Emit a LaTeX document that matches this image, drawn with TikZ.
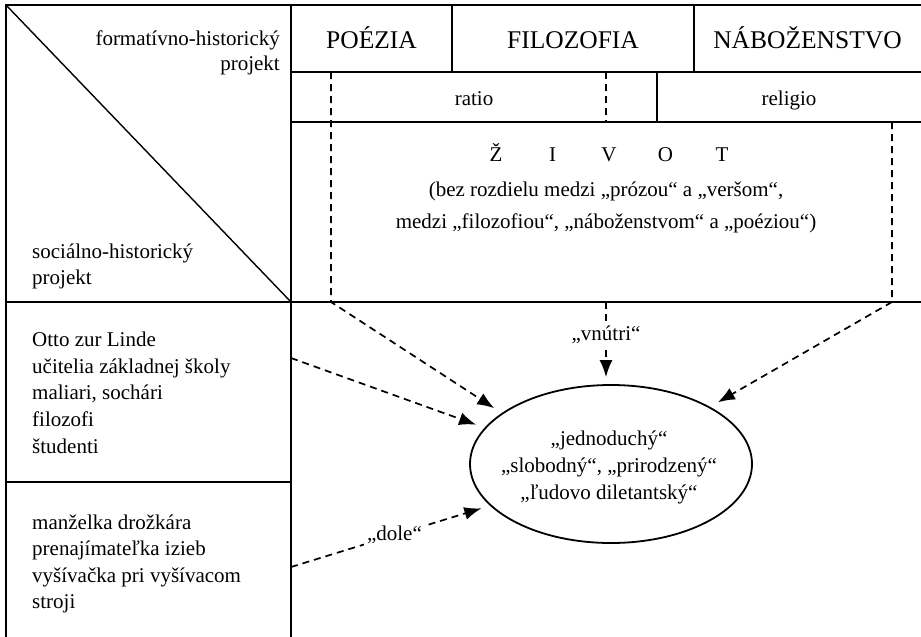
\documentclass[tikz,border=0pt]{standalone}
\usepackage{fontspec}
\setmainfont{Liberation Serif}
\usetikzlibrary{arrows.meta, shapes.geometric}

\begin{document}
\begin{tikzpicture}[x = 1pt, y = -1pt,
    frame/.style = {line width = 2.3pt},
    cell/.style = {line width = 1.6pt},
    link/.style = {line width = 1.7pt, dash pattern = on 7pt off 5pt},
    arrow/.style = {link, -{Latex[length = 17pt, width = 13pt]}, shorten > = 9pt},
    txt/.style = {font = \fontsize{21}{26.7}\selectfont, inner sep = 0pt},
    big/.style = {font = \fontsize{25.5}{30}\selectfont, inner sep = 0pt},
    lbl/.style = {txt, fill = white, inner sep = 3pt}]
  \useasboundingbox (0,0) rectangle (921,637);
  % table frame
  \draw [frame] (921,5) -- (6,5) -- (6,637);
  \draw [frame] (291,5) -- (291,637);
  \draw [frame] (6,302) -- (921,302);
  \draw [cell] (6,482) -- (291,482);
  \draw [cell] (291,72) -- (921,72);
  \draw [cell] (291,122) -- (921,122);
  \draw [cell] (452,5) -- (452,72);
  \draw [cell] (694,5) -- (694,72);
  \draw [cell] (657,72) -- (657,122);
  \draw [line width = 1.4pt] (6,5) -- (291,302);
  % headings (base = last line)
  \node [txt, anchor = base east, align = right,
    font = \fontsize{21}{25}\selectfont] (formProj) at (280,70.7)
    {formatívno-historický\\projekt};
  \node [txt, anchor = base west, align = left,
    font = \fontsize{21}{25.7}\selectfont] (socProj) at (32,284)
    {sociálno-historický\\projekt};
  \node [big, anchor = base] (poezia) at (371.5,48.3) {POÉZIA};
  \node [big, anchor = base] (filozofia) at (573,48.3) {FILOZOFIA};
  \node [big, anchor = base] (nabozenstvo) at (807.5,48.3) {NÁBOŽENSTVO};
  \node [txt, anchor = base] (ratio) at (474,105) {ratio};
  \node [txt, anchor = base] (religio) at (789,105) {religio};
  \node [txt, anchor = base] (zivot) at (609,161.7)
    {\makebox[56.5pt]{Ž}\makebox[56.5pt]{I}\makebox[56.5pt]{V}\makebox[56.5pt]{O}\makebox[56.5pt]{T}};
  \node [txt, anchor = base, align = center,
    font = \fontsize{21}{31.6}\selectfont] (bezRozdielu) at (606,228.3)
    {(bez rozdielu medzi „prózou“ a „veršom“,\\medzi „filozofiou“, „náboženstvom“ a „poéziou“)};
  % social groups
  \node [txt, anchor = base west, align = left] (hore) at (32,453.3)
    {Otto zur Linde\\učitelia základnej školy\\maliari, sochári\\filozofi\\študenti};
  \node [txt, anchor = base west, align = left,
    font = \fontsize{21}{26.5}\selectfont] (dole) at (32,608.7)
    {manželka drožkára\\prenajímateľka izieb\\vyšívačka pri vyšívacom\\stroji};
  % ellipse
  \node [ellipse, draw, line width = 1.8pt, minimum width = 282pt,
    minimum height = 158pt] (ell) at (611,464) {};
  \node [txt, anchor = base, align = center,
    font = \fontsize{21}{27}\selectfont] (ellTxt) at (609,499)
    {„jednoduchý“\\„slobodný“, „prirodzený“\\„ľudovo diletantský“};
  % dashed connectors
  \coordinate (poeTop) at (331,72);
  \coordinate (poeBot) at (331,302);
  \coordinate (ratTop) at (606,72);
  \coordinate (ratBot) at (606,122);
  \coordinate (vnTop) at (606,302);
  \coordinate (relTop) at (892,122);
  \coordinate (relBot) at (892,302);
  \coordinate (horeOut) at (291,358);
  \coordinate (doleOut) at (291,567);
  \draw [link] (ratTop) -- (ratBot);
  \draw [arrow] (poeTop) -- (poeBot) -- (ell.155);
  \draw [arrow] (relTop) -- (relBot) -- (ell.30);
  \draw [arrow] (horeOut) -- (ell.164);
  \draw [arrow, shorten > = 7pt] (vnTop) --
    node [lbl, pos = 0.4] (vnutri) {„vnútri“} (vnTop |- ell.north);
  \draw [arrow] (doleOut) --
    node [lbl, pos = 0.52] (doleLbl) {„dole“} (ell.199);
\end{tikzpicture}
\end{document}
